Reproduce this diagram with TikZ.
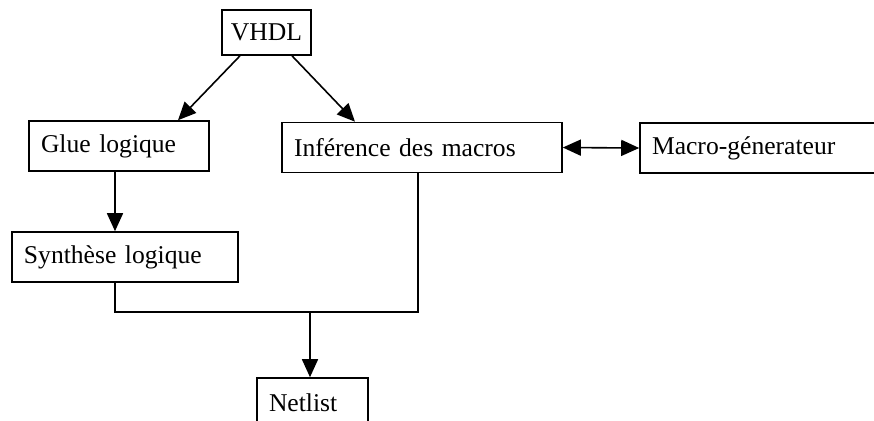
\documentclass[tikz,border=0pt]{standalone}
\usepackage{fontspec}
\setmainfont{Liberation Serif}
\usetikzlibrary{arrows.meta}
\begin{document}
\begin{tikzpicture}[
  x=0.5pt,y=-0.5pt,
  every node/.style={font=\fontsize{12.8pt}{15pt}\selectfont},
  every path/.style={line width=.8pt},
  box/.style={draw,rectangle,inner ysep=0pt,inner xsep=6pt,
    minimum height=25pt,align=left,text width=#1},
  topbox/.style={draw,rectangle,inner sep=0pt,
    minimum width=44.5pt,minimum height=22.5pt},
  arr/.style={-{Triangle[length=9pt,width=8pt]}},
  dblarr/.style={{Triangle[length=9pt,width=8pt]}-{Triangle[length=9pt,width=8pt]}}]
  \useasboundingbox (0,0) rectangle (874,420);

  % source and the two branches
  \node[topbox] (vhdl) at (266.5,32.5) {VHDL};
  \node[box=78pt] (glue) at (119,146) {Glue logique};
  \node[box=128pt] (inf) at (422,147.5) {Inférence des macros};
  \node[box=108pt] (macro) at (760,148) {Macro-génerateur};
  \node[box=101pt] (synth) at (125,257) {Synthèse logique};
  % Netlist box runs past the lower edge of the page
  \node[box=43.5pt] (net) at (312.5,403) {Netlist};
  \coordinate (merge) at (310,312);

  \draw[arr] ([xshift=-13.25pt]vhdl.south) -- ([xshift=29.5pt]glue.north);
  \draw[arr] ([xshift=12.75pt]vhdl.south) -- ([xshift=-33.5pt]inf.north);
  \draw[dblarr] (inf.east) -- (macro.west);
  \draw[arr] ([xshift=-2pt]glue.south) -- ([xshift=-2pt]glue.south |- synth.north);

  % both flows join above the netlist
  \draw ([xshift=-5pt]synth.south) |- (merge) -| ([xshift=-2pt]inf.south);
  \draw[arr] (merge) -- (merge |- net.north);
\end{tikzpicture}
\end{document}
